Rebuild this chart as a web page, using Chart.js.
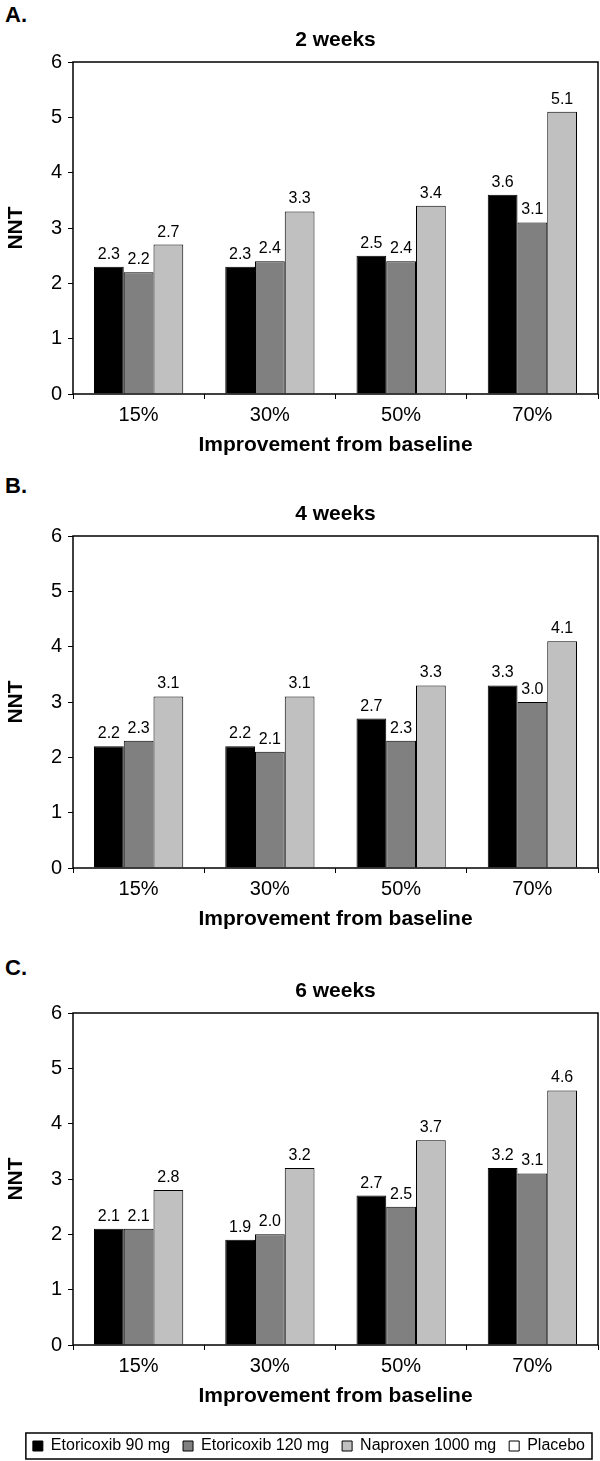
<!DOCTYPE html>
<html>
<head>
<meta charset="utf-8">
<title>NNT by improvement from baseline</title>
<script src="https://cdn.jsdelivr.net/npm/chart.js@4.4.0/dist/chart.umd.min.js"></script>
<style>
  html, body { margin: 0; padding: 0; background: #fff; overflow: hidden; }
  body { position: relative; width: 600px; height: 1461px; font-family: "Liberation Sans", Arial, sans-serif; }
  .panel { position: absolute; left: 0; width: 600px; }
  .tag { position: absolute; left: 5px; font-weight: bold; font-size: 22px; line-height: 22px; }
</style>
</head>
<body>
<div class="tag" style="top:4px">A.</div>
<div class="tag" style="top:475px">B.</div>
<div class="tag" style="top:957px">C.</div>

<div class="panel" style="top:0px;height:458px"><canvas id="chartA"></canvas></div>
<div class="panel" style="top:474px;height:458px"><canvas id="chartB"></canvas></div>
<div class="panel" style="top:951px;height:513px"><canvas id="chartC"></canvas></div>

<script>
// data
const categories = ['15%', '30%', '50%', '70%']
const seriesNames = ['Etoricoxib 90 mg', 'Etoricoxib 120 mg', 'Naproxen 1000 mg', 'Placebo']
const seriesColors = ['#000000', '#808080', '#c0c0c0', '#ffffff']
const yMin = 0
const yMax = 6

const etori90_2wk = [2.3, 2.3, 2.5, 3.6]
const etori120_2wk = [2.2, 2.4, 2.4, 3.1]
const naproxen_2wk = [2.7, 3.3, 3.4, 5.1]

const etori90_4wk = [2.2, 2.2, 2.7, 3.3]
const etori120_4wk = [2.3, 2.1, 2.3, 3.0]
const naproxen_4wk = [3.1, 3.1, 3.3, 4.1]

const etori90_6wk = [2.1, 1.9, 2.7, 3.2]
const etori120_6wk = [2.1, 2.0, 2.5, 3.1]
const naproxen_6wk = [2.8, 3.2, 3.7, 4.6]

const FONT = '"Liberation Sans", Arial, sans-serif'
Chart.defaults.font.family = FONT
Chart.defaults.color = '#000'

// value above every bar
const barValues = {
  id: 'barValues',
  afterDatasetsDraw(chart) {
    const ctx = chart.ctx
    ctx.save()
    ctx.font = '16px ' + FONT
    ctx.fillStyle = '#000'
    ctx.textAlign = 'center'
    ctx.textBaseline = 'alphabetic'
    chart.data.datasets.forEach((ds, i) => {
      chart.getDatasetMeta(i).data.forEach((bar, j) => {
        const v = ds.data[j]
        if (v == null) return
        ctx.fillText(v.toFixed(1), bar.x, bar.y - 8)
      })
    })
    ctx.restore()
  }
}

// box round the plot area
const plotFrame = {
  id: 'plotFrame',
  afterDatasetsDraw(chart) {
    const a = chart.chartArea
    const ctx = chart.ctx
    ctx.save()
    ctx.strokeStyle = '#000'
    ctx.lineWidth = 1.5
    ctx.strokeRect(a.left, a.top, a.right - a.left, a.bottom - a.top)
    ctx.restore()
  }
}

// box round the legend
const legendFrame = {
  id: 'legendFrame',
  afterDraw(chart) {
    const lg = chart.legend
    if (!lg || !lg.options.display || !lg.legendHitBoxes.length) return
    const hb = lg.legendHitBoxes
    const first = hb[0]
    const last = hb[hb.length - 1]
    const mid = first.top + first.height / 2
    const ctx = chart.ctx
    ctx.save()
    ctx.strokeStyle = '#000'
    ctx.lineWidth = 1.5
    ctx.strokeRect(first.left - 7, mid - 13, last.left + last.width + 7 - (first.left - 7), 26)
    ctx.restore()
  }
}

const makePanel = (id, title, s90, s120, snap, withLegend) => {
  const xHeight = withLegend ? 80 : 64
  const xTitleBottom = withLegend ? 16 : 0
  const values = [s90, s120, snap]

  return new Chart(document.getElementById(id), {
    type: 'bar',
    data: {
      labels: categories,
      datasets: values.map((d, i) => ({
        label: seriesNames[i],
        data: d,
        backgroundColor: seriesColors[i],
        borderColor: '#000',
        borderWidth: 1,
        categoryPercentage: 0.68,
        barPercentage: 1.0
      }))
    },
    options: {
      responsive: true,
      maintainAspectRatio: false,
      animation: false,
      layout: { padding: { top: 20, left: 0, right: 2, bottom: 0 } },
      plugins: {
        title: {
          display: true,
          text: title,
          fullSize: false,
          color: '#000',
          font: { size: 21, weight: 'bold' },
          padding: { top: 8, bottom: 8.8 }
        },
        legend: {
          display: withLegend,
          position: 'bottom',
          align: 'end',
          onClick: null,
          labels: {
            boxWidth: 10,
            boxHeight: 10,
            padding: 13,
            color: '#000',
            font: { size: 16 },
            generateLabels: () => seriesNames.map((n, i) => ({
              text: n,
              fillStyle: seriesColors[i],
              strokeStyle: '#000',
              lineWidth: 1,
              hidden: false,
              fontColor: '#000',
              datasetIndex: i
            }))
          }
        },
        tooltip: { enabled: false }
      },
      scales: {
        x: {
          offset: true,
          border: { display: false },
          grid: { display: true, drawOnChartArea: false, drawTicks: true, tickLength: 5, color: '#000', offset: true },
          ticks: { color: '#000', font: { size: 20 }, padding: 4, maxRotation: 0, autoSkip: false },
          title: {
            display: true,
            text: 'Improvement from baseline',
            color: '#000',
            font: { size: 21, weight: 'bold' },
            padding: { top: 4, bottom: xTitleBottom }
          },
          afterFit: (s) => { s.height = xHeight }
        },
        y: {
          min: yMin,
          max: yMax,
          border: { display: false },
          grid: { display: true, drawOnChartArea: false, drawTicks: true, tickLength: 5, color: '#000' },
          ticks: { stepSize: 1, color: '#000', font: { size: 20 }, padding: 6 },
          title: {
            display: true,
            text: 'NNT',
            color: '#000',
            font: { size: 21, weight: 'bold' },
            padding: { top: 4, bottom: 4 }
          },
          afterFit: (s) => { s.width = 73 }
        }
      }
    },
    plugins: withLegend ? [barValues, plotFrame, legendFrame] : [barValues, plotFrame]
  })
}

makePanel('chartA', '2 weeks', etori90_2wk, etori120_2wk, naproxen_2wk, false)
makePanel('chartB', '4 weeks', etori90_4wk, etori120_4wk, naproxen_4wk, false)
makePanel('chartC', '6 weeks', etori90_6wk, etori120_6wk, naproxen_6wk, true)
</script>
</body>
</html>
